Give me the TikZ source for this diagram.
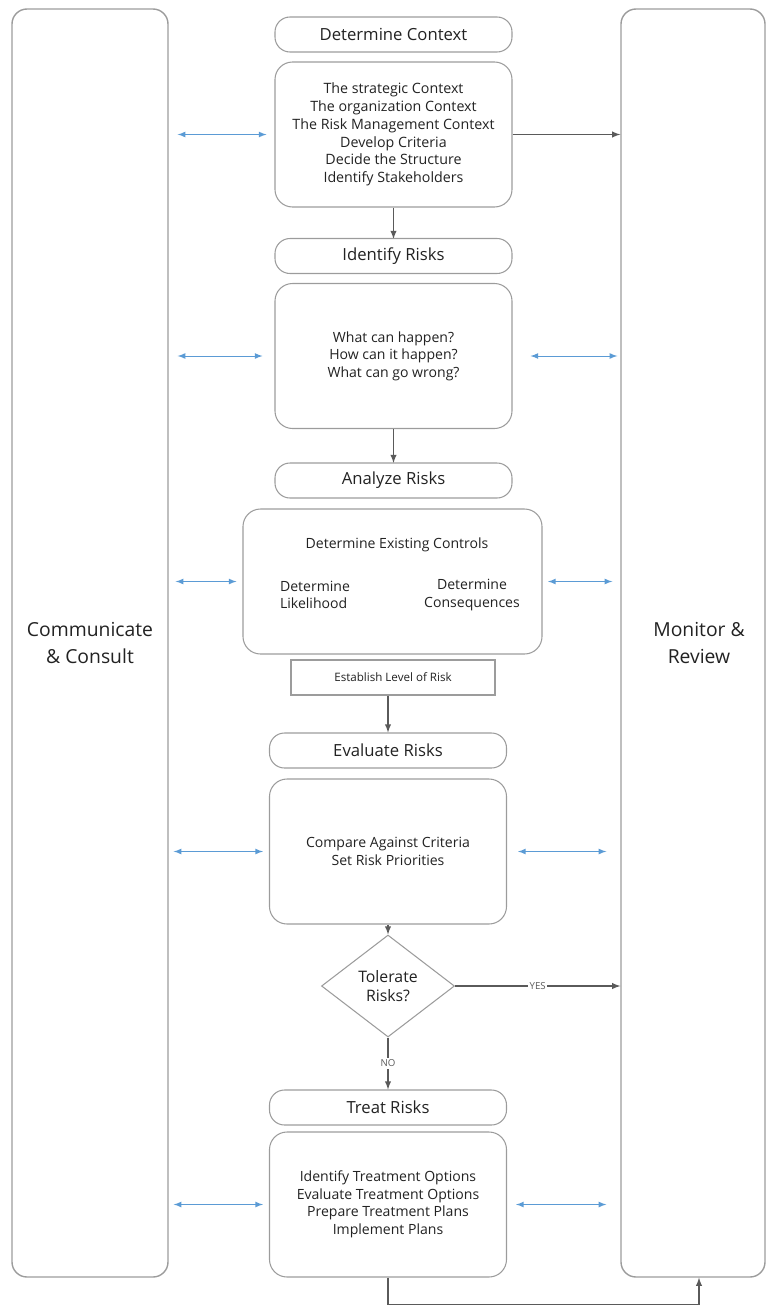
\documentclass[tikz,border=0pt]{standalone}
\usepackage{fontspec}
\setmainfont{Open Sans}
\usepackage{xcolor}
\usetikzlibrary{arrows,positioning,shapes.geometric}
\definecolor{boxgray}{HTML}{9C9C9C}
\definecolor{flowgray}{HTML}{5A5A5A}
\definecolor{linkblue}{HTML}{5B9BD5}
\definecolor{inkgray}{HTML}{222222}

\begin{document}
\begin{tikzpicture}[>=latex,
  side/.style={draw=boxgray, line width=0.8pt, rounded corners=0.3cm, minimum height=25.36cm, inner sep=0pt, align=center, text=inkgray, font=\fontsize{11}{15.5}\selectfont},
  stage/.style={draw=boxgray, line width=0.6pt, rounded corners=0.3cm, minimum width=4.74cm, minimum height=0.7cm, inner sep=0pt, text=inkgray, font=\fontsize{9.5}{11}\selectfont},
  detail/.style={draw=boxgray, line width=0.6pt, rounded corners=0.35cm, minimum width=4.74cm, minimum height=2.9cm, inner sep=0pt, align=center, text=inkgray, font=\fontsize{8}{10}\selectfont},
  flow/.style={->, draw=flowgray, line width=0.6pt},
  link/.style={<->, draw=linkblue, line width=0.5pt}]
\useasboundingbox (0,0) rectangle (15.34,-26.12);

% side columns
\node [side, minimum width=3.12cm] (cc) at (1.8,-12.86) {Communicate\\\& Consult};
\node [side, minimum width=2.88cm] (mr) at (13.86,-12.86) {\hspace*{0.24cm}Monitor \&\\\hspace*{0.24cm}Review};

% context
\node [stage] (dc) at (7.87,-0.69) {Determine Context};
\node [detail, font=\fontsize{8.1}{10.1}\selectfont] (ctx) at (7.87,-2.69) {The strategic Context\\The organization Context\\The Risk Management Context\\Develop Criteria\\Decide the Structure\\Identify Stakeholders};
\draw [flow] (ctx.south) -- (ctx.south |- 0,-4.78);

% identify
\node [stage] (ir) at (7.87,-5.12) {Identify Risks};
\node [detail] (what) at (7.87,-7.12) {What can happen?\\How can it happen?\\What can go wrong?};
\draw [flow] (what.south) -- (what.south |- 0,-9.26);

% analyse
\node [stage] (ar) at (7.87,-9.61) {Analyze Risks};
\node [detail, minimum width=5.98cm] (anl) at (7.85,-11.63) {};
\node [text=inkgray, font=\fontsize{8}{10}\selectfont] (exc) at (7.94,-10.9) {Determine Existing Controls};
\node [text=inkgray, align=left, font=\fontsize{8}{10}\selectfont] (lik) at (6.3,-11.9) {Determine\\Likelihood};
\node [text=inkgray, align=center, font=\fontsize{8}{10}\selectfont] (con) at (9.44,-11.9) {Determine\\Consequences};
\node [draw=boxgray, line width=0.6pt, minimum width=4.08cm, minimum height=0.7cm, inner sep=0pt, text=inkgray, font=\fontsize{6.6}{7}\selectfont] (elr) at (7.86,-13.55) {Establish Level of Risk};

% evaluate
\node [stage] (er) at (7.76,-15.01) {Evaluate Risks};
\draw [flow] (elr.south -| er.north) -- (er.north);
\node [detail] (cmp) at (7.76,-17.03) {Compare Against Criteria\\Set Risk Priorities};
\node [diamond, draw=boxgray, line width=0.6pt, minimum width=2.66cm, minimum height=2.04cm, inner sep=0pt, align=center, text=inkgray, font=\fontsize{9}{11}\selectfont] (tol) at (7.76,-19.72) {Tolerate\\Risks?};
\draw [flow] (cmp.south) -- (tol.north);
\draw [flow] (tol.east) -- node [fill=white, inner sep=1pt, text=flowgray, font=\fontsize{5.5}{6}\selectfont] {YES} (tol.east -| mr.west);

% treat
\node [stage] (tr) at (7.76,-22.15) {Treat Risks};
\draw [flow] (tol.south) -- node [fill=white, inner sep=1pt, text=flowgray, font=\fontsize{5.5}{6}\selectfont] {NO} (tr.north);
\node [detail] (trt) at (7.76,-24.09) {Identify Treatment Options\\Evaluate Treatment Options\\Prepare Treatment Plans\\Implement Plans};
\draw [flow] (trt.south) -- ++(0,-0.54) -| ([xshift=0.12cm]mr.south);

% links to the side columns
\draw [flow] (ctx.east) -- (ctx.east -| mr.west);
\draw [link, shorten <=0.18cm, shorten >=0.16cm] (ctx.west -| cc.east) -- (ctx.west);
\draw [link, shorten <=0.18cm, shorten >=0.24cm] (what.west -| cc.east) -- (what.west);
\draw [link, shorten <=0.36cm, shorten >=0.06cm] (what.east) -- (what.east -| mr.west);
\draw [link, shorten <=0.14cm, shorten >=0.12cm] (anl.west -| cc.east) -- (anl.west);
\draw [link, shorten <=0.11cm, shorten >=0.16cm] (anl.east) -- (anl.east -| mr.west);
\draw [link, shorten <=0.10cm, shorten >=0.12cm] (cmp.west -| cc.east) -- (cmp.west);
\draw [link, shorten <=0.22cm, shorten >=0.28cm] (cmp.east) -- (cmp.east -| mr.west);
\draw [link, shorten <=0.10cm, shorten >=0.12cm] (trt.west -| cc.east) -- (trt.west);
\draw [link, shorten <=0.18cm, shorten >=0.28cm] (trt.east) -- (trt.east -| mr.west);
\end{tikzpicture}
\end{document}
